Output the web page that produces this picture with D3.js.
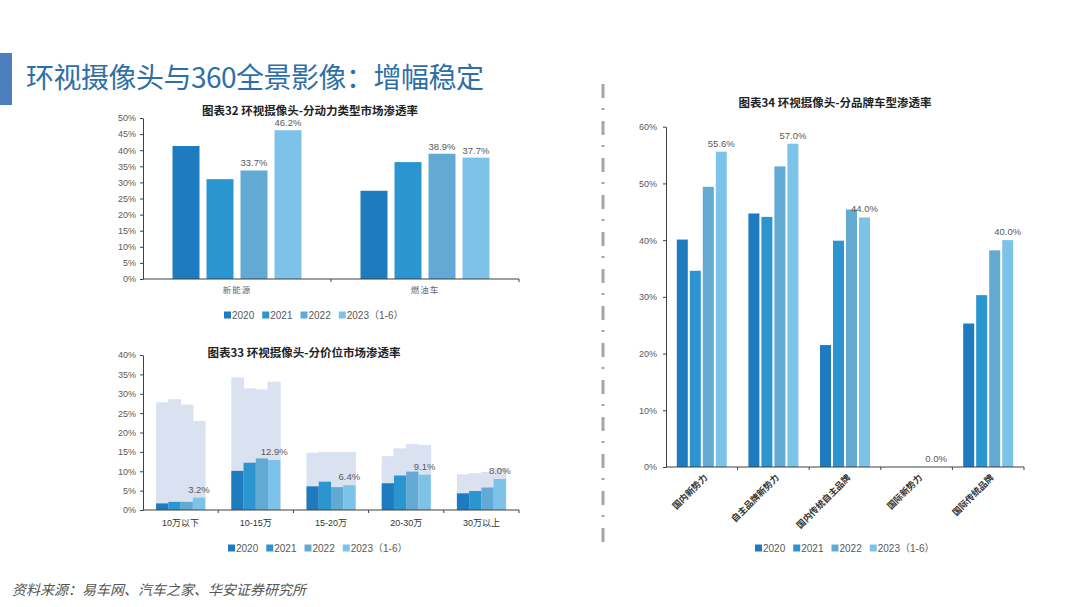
<!DOCTYPE html>
<html><head><meta charset="utf-8">
<script src="https://cdn.jsdelivr.net/npm/d3@7"></script>
<style>
html,body{margin:0;padding:0;background:#fff;}
svg{display:block;font-family:"Liberation Sans","Noto Sans CJK SC",sans-serif;}
</style></head><body>
<svg id="c" width="1080" height="607"></svg>
<script>
// ---------- data ----------
const years = ["2020", "2021", "2022", "2023（1-6）"];
const seriesColors = ["#1f7bbf", "#2b95cf", "#62a9d3", "#7dc2e9"];
const bgColor = "#dae1f0";

const powerCats = ["新能源", "燃油车"];
const power2020 = [41.3, 27.4];
const power2021 = [31.0, 36.3];
const power2022 = [33.7, 38.9];
const power2023 = [46.2, 37.7];
const powerTicks = [0, 5, 10, 15, 20, 25, 30, 35, 40, 45, 50];

const priceCats = ["10万以下", "10-15万", "15-20万", "20-30万", "30万以上"];
const price2020 = [1.7, 10.1, 6.1, 6.9, 4.3];
const price2021 = [2.1, 12.2, 7.3, 8.9, 4.9];
const price2022 = [2.1, 13.3, 5.9, 9.9, 5.8];
const price2023 = [3.2, 12.9, 6.4, 9.1, 8.0];
const priceBg2020 = [27.8, 34.2, 14.8, 13.9, 9.2];
const priceBg2021 = [28.6, 31.4, 15.0, 15.9, 9.5];
const priceBg2022 = [27.2, 31.1, 15.0, 17.0, 9.8];
const priceBg2023 = [23.0, 33.1, 15.0, 16.8, 10.8];
const priceTicks = [0, 5, 10, 15, 20, 25, 30, 35, 40];

const brandCats = ["国内新势力", "自主品牌新势力", "国内传统自主品牌", "国际新势力", "国际传统品牌"];
const brand2020 = [40.1, 44.7, 21.5, 0, 25.3];
const brand2021 = [34.6, 44.1, 39.9, 0, 30.3];
const brand2022 = [49.4, 53.0, 45.4, 0, 38.2];
const brand2023 = [55.6, 57.0, 44.0, 0, 40.0];
const brandTicks = [0, 10, 20, 30, 40, 50, 60];

// ---------- helpers ----------
const svg = d3.select("#c");
const axisColor = "#404040";
const textColor = "#595959";

function groupedChart(o) {
  const g = svg.append("g");
  const x0 = d3.scaleBand().domain(o.cats).range(o.xRange).padding(0);
  const gw = x0.bandwidth() * o.groupFrac;
  const x1 = d3.scaleBand().domain(years).range([0, gw]).paddingInner(o.innerPad).paddingOuter(0);
  const off = (x0.bandwidth() - gw) / 2;
  const y = d3.scaleLinear().domain([0, o.yMax]).range(o.yRange);

  // background series
  if (o.bg) {
    o.bg.forEach((arr, si) => {
      g.selectAll(null).data(arr).enter().append("rect")
        .attr("x", (d, i) => x0(o.cats[i]) + off + x1(years[si]) - (si > 0 ? 0.5 : 0))
        .attr("width", x1.bandwidth() + (si > 0 ? 0.5 : 0) + 0.5)
        .attr("y", d => y(d))
        .attr("height", d => y(0) - y(d))
        .attr("fill", bgColor);
    });
  }
  o.series.forEach((arr, si) => {
    g.selectAll(null).data(arr).enter().append("rect")
      .attr("x", (d, i) => x0(o.cats[i]) + off + x1(years[si]))
      .attr("width", x1.bandwidth())
      .attr("y", d => y(d))
      .attr("height", d => y(0) - y(d))
      .attr("fill", seriesColors[si]);
  });
  // value labels
  o.labelSeries.forEach(si => {
    g.selectAll(null).data(o.series[si]).enter().append("text")
      .attr("x", (d, i) => x0(o.cats[i]) + off + x1(years[si]) + x1.bandwidth() / 2)
      .attr("y", d => y(d) - o.labelGap)
      .attr("text-anchor", "middle")
      .attr("font-size", o.labelSize)
      .attr("fill", textColor)
      .text(d => d.toFixed(1) + "%");
  });
  // y axis
  const ya = g.append("g").attr("transform", `translate(${o.xRange[0]},0)`)
    .call(d3.axisLeft(y).tickValues(o.ticks).tickFormat(d => d + "%")
      .tickSizeInner(3).tickSizeOuter(0).tickPadding(o.tickPad));
  ya.selectAll("path,line").attr("stroke", axisColor);
  ya.selectAll("text").attr("font-size", o.tickSize).attr("fill", textColor)
    .attr("font-family", "Liberation Sans, sans-serif");
  // x axis line and boundary ticks
  const y0 = y(0);
  g.append("line").attr("x1", o.xRange[0]).attr("x2", o.xRange[1])
    .attr("y1", y0).attr("y2", y0).attr("stroke", axisColor).attr("stroke-width", 1.2);
  const bounds = o.cats.map(c => x0(c)).concat([o.xRange[1]]).slice(1);
  g.selectAll(null).data(bounds).enter().append("line")
    .attr("x1", d => d).attr("x2", d => d).attr("y1", y0).attr("y2", y0 + 3)
    .attr("stroke", axisColor);
  // category labels
  if (o.rotate) {
    g.selectAll(null).data(o.cats).enter().append("text")
      .attr("transform", d => `translate(${x0(d) + x0.bandwidth() / 2 + 4},${y0 + 9}) rotate(-45)`)
      .attr("text-anchor", "end")
      .attr("dy", "0.35em")
      .attr("font-size", 9).attr("font-weight", "bold").attr("fill", "#333")
      .attr("font-family", "Noto Sans CJK SC, sans-serif")
      .text(d => d);
  } else {
    g.selectAll(null).data(o.cats).enter().append("text")
      .attr("x", d => x0(d) + x0.bandwidth() / 2)
      .attr("y", y0 + o.catGap)
      .attr("text-anchor", "middle")
      .attr("font-size", o.catSize).attr("fill", o.catColor)
      .attr("letter-spacing", o.catSpacing || 0)
      .text(d => d);
  }
  // title
  g.append("text").attr("x", o.titleX).attr("y", o.titleY).attr("text-anchor", "middle")
    .attr("font-size", 11.5).attr("font-weight", "bold").attr("fill", "#222")
    .attr("font-family", "Noto Sans CJK SC, sans-serif")
    .text(o.title);
  // legend
  let lx = o.legendX;
  years.forEach((yr, i) => {
    g.append("rect").attr("x", lx).attr("y", o.legendY - 3.5).attr("width", 7).attr("height", 7)
      .attr("fill", seriesColors[i]);
    const t = g.append("text").attr("x", lx + 8).attr("y", o.legendY).attr("dy", "0.35em")
      .attr("font-size", 10).attr("fill", textColor).text(yr);
    lx += 8 + t.node().getComputedTextLength() + 8;
  });
}

// ---------- page decorations ----------
svg.append("rect").attr("x", 0).attr("y", 53).attr("width", 12).attr("height", 52).attr("fill", "#4d7fbe");
svg.append("text").attr("x", 26).attr("y", 88).attr("font-size", 28)
  .attr("font-family", "Noto Sans CJK SC, sans-serif").attr("fill", "#2f6fa8")
  .attr("textLength", 458).attr("lengthAdjust", "spacing")
  .text("环视摄像头与360全景影像：增幅稳定");

svg.append("line").attr("x1", 603).attr("x2", 603).attr("y1", 84).attr("y2", 552)
  .attr("stroke", "#a6a6a6").attr("stroke-width", 3).attr("stroke-dasharray", "14,10,2,11");

svg.append("text").attr("x", 12).attr("y", 595).attr("font-size", 14)
  .attr("font-style", "italic").attr("fill", "#555")
  .attr("font-family", "Noto Sans CJK SC, sans-serif")
  .text("资料来源：易车网、汽车之家、华安证券研究所");

// ---------- charts ----------
groupedChart({
  cats: powerCats, series: [power2020, power2021, power2022, power2023],
  yMax: 50, ticks: powerTicks, xRange: [143, 519], yRange: [279, 118],
  groupFrac: 129 / 188, innerPad: 7 / 34, labelSeries: [2, 3], labelGap: 4, labelSize: 9.5,
  tickPad: 4, tickSize: 9, catGap: 14, catSize: 8.5, catColor: "#666", catSpacing: 1,
  title: "图表32 环视摄像头-分动力类型市场渗透率", titleX: 310, titleY: 115,
  legendX: 224, legendY: 315
});

groupedChart({
  cats: priceCats, series: [price2020, price2021, price2022, price2023],
  bg: [priceBg2020, priceBg2021, priceBg2022, priceBg2023],
  yMax: 40, ticks: priceTicks, xRange: [143, 519], yRange: [510, 355],
  groupFrac: 49 / 75.2, innerPad: 0, labelSeries: [3], labelGap: 5, labelSize: 9.5,
  tickPad: 4, tickSize: 9, catGap: 16, catSize: 9, catColor: "#333",
  title: "图表33 环视摄像头-分价位市场渗透率", titleX: 304, titleY: 357,
  legendX: 228, legendY: 548
});

groupedChart({
  cats: brandCats, series: [brand2020, brand2021, brand2022, brand2023],
  yMax: 60, ticks: brandTicks, xRange: [666, 1024], yRange: [467, 126.7],
  groupFrac: 50 / 71.6, innerPad: 2 / 13, labelSeries: [3], labelGap: 5, labelSize: 9.5,
  tickPad: 6, tickSize: 9, rotate: true,
  title: "图表34 环视摄像头-分品牌车型渗透率", titleX: 835, titleY: 107,
  legendX: 755, legendY: 548
});
</script>
</body></html>
